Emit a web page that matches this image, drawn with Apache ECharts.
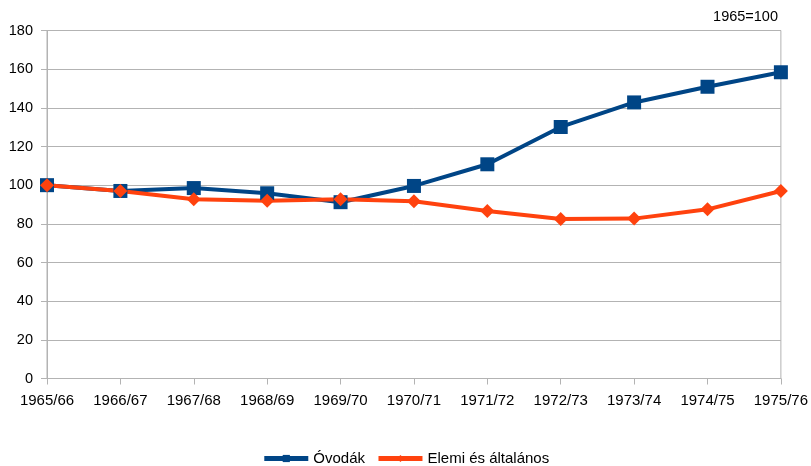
<!DOCTYPE html>
<html><head><meta charset="utf-8">
<script src="https://cdn.jsdelivr.net/npm/echarts@6/dist/echarts.min.js"></script>
<style>html,body{margin:0;padding:0;background:#fff}#c{width:811px;height:466px}</style>
</head><body><div id="c"></div>
<script>
var categories = ['1965/66','1966/67','1967/68','1968/69','1969/70','1970/71','1971/72','1972/73','1973/74','1974/75','1975/76'];
var ovodak = [100, 97.0, 98.5, 95.8, 91.2, 99.6, 110.8, 130.1, 142.8, 150.9, 158.4];
var elemi = [100, 97.0, 92.7, 92.0, 92.7, 91.7, 86.6, 82.5, 82.7, 87.5, 97.0];
var yTicks = [0, 20, 40, 60, 80, 100, 120, 140, 160, 180];

var chart = echarts.init(document.getElementById('c'), null, {renderer:'canvas'});
var font = 'Liberation Sans';
chart.setOption({
  animation: false,
  textStyle: {fontFamily: font},
  title: {text: '1965=100', right: 33, top: 9, padding: 0, textStyle: {fontSize: 14.5, fontWeight: 'normal', color: '#000', fontFamily: font}},
  grid: {left: 47, right: 29, top: 30.5, bottom: 87.5, show: true, borderColor: '#b3b3b3', borderWidth: 1},
  legend: {
    top: 446, left: 'center', itemWidth: 44, itemHeight: 9, itemGap: 11,
    lineStyle: {width: 5},
    textStyle: {fontSize: 15, color: '#000', fontFamily: font},
    data: ['Óvodák', 'Elemi és általános']
  },
  xAxis: {
    type: 'category', data: categories, boundaryGap: false,
    axisLine: {lineStyle: {color: '#b3b3b3'}},
    axisTick: {show: true, length: 6, lineStyle: {color: '#b3b3b3'}},
    axisLabel: {color: '#000', fontSize: 15, margin: 15, fontFamily: font, interval: 0},
    splitLine: {show: false}
  },
  yAxis: {
    type: 'value', min: yTicks[0], max: yTicks[yTicks.length-1], interval: 20,
    axisLine: {show: true, lineStyle: {color: '#b3b3b3'}},
    axisTick: {show: true, length: 6, lineStyle: {color: '#b3b3b3'}},
    axisLabel: {color: '#000', fontSize: 14.5, margin: 14, fontFamily: font},
    splitLine: {lineStyle: {color: '#b3b3b3'}}
  },
  series: [
    {name: 'Óvodák', type: 'line', data: ovodak, symbol: 'rect', symbolSize: 14,
     lineStyle: {width: 4, color: '#004586'}, itemStyle: {color: '#004586'}},
    {name: 'Elemi és általános', type: 'line', data: elemi, symbol: 'diamond', symbolSize: 14,
     lineStyle: {width: 4, color: '#ff420e'}, itemStyle: {color: '#ff420e'}}
  ]
});
</script></body></html>
